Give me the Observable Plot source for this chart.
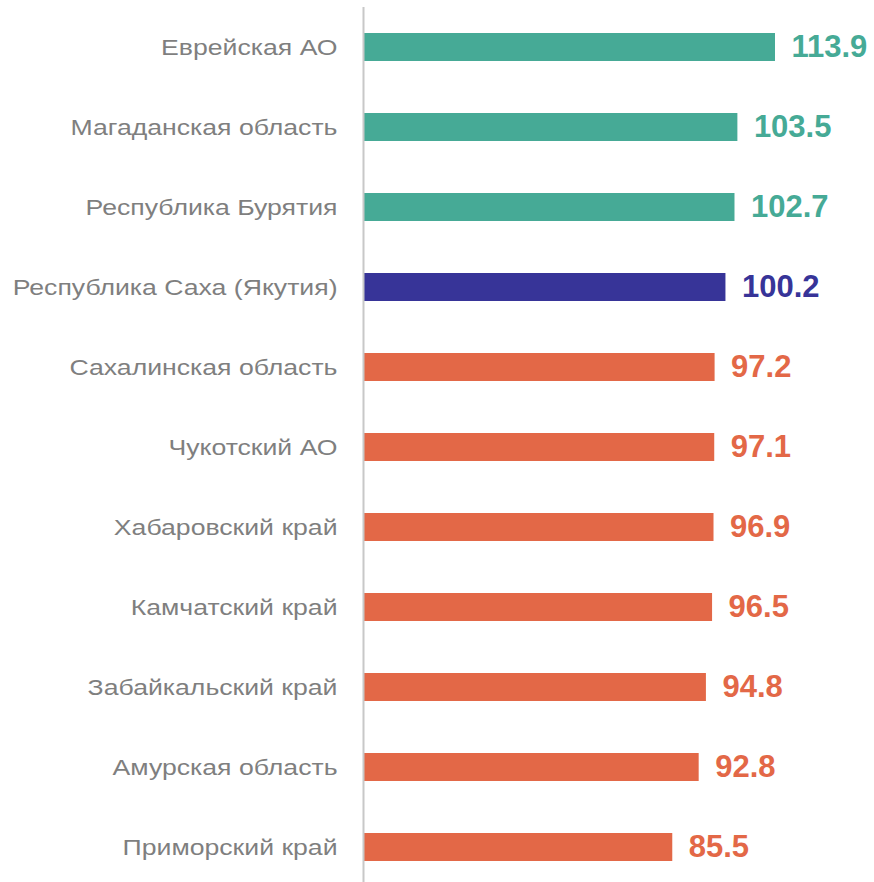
<!DOCTYPE html>
<html>
<head>
<meta charset="utf-8">
<script src="https://cdn.jsdelivr.net/npm/d3@7"></script>
<script src="https://cdn.jsdelivr.net/npm/@observablehq/plot@0.6"></script>
<style>
body { margin: 0; background: #fff; }
</style>
</head>
<body>
<div id="chart"></div>
<script>
const regions = ["Еврейская АО","Магаданская область","Республика Бурятия","Республика Саха (Якутия)","Сахалинская область","Чукотский АО","Хабаровский край","Камчатский край","Забайкальский край","Амурская область","Приморский край"];
const values = [113.9,103.5,102.7,100.2,97.2,97.1,96.9,96.5,94.8,92.8,85.5];
const groups = ["above","above","above","self","below","below","below","below","below","below","below"];

const data = regions.map((r, i) => ({region: r, value: values[i], group: groups[i]}));
const colors = {above: "#46aa96", self: "#373498", below: "#e36847"};

const chart = Plot.plot({
  width: 874,
  height: 882,
  marginTop: 7,
  marginBottom: 0,
  marginLeft: 363,
  marginRight: 99,
  style: {fontFamily: "Liberation Sans, Arial, sans-serif", background: "#fff"},
  x: {domain: [0, 113.9], range: [363, 775], axis: null},
  y: {domain: regions, range: [7, 887], paddingInner: 0.65, paddingOuter: 0.325, axis: null},
  marks: [
    Plot.barX(data, {y: "region", x: "value", fill: d => colors[d.group]}),
    Plot.ruleX([0], {stroke: "#c8c8c8", strokeWidth: 2}),
    Plot.text(data, {y: "region", x: 0, text: "region", textAnchor: "end", dx: -26, fontSize: 22, fill: "#7f7f7f"}),
    Plot.text(data, {y: "region", x: "value", text: d => d.value.toFixed(1), textAnchor: "start", dx: 16, fontSize: 31, fontWeight: "bold", fill: d => colors[d.group]})
  ]
});
document.getElementById("chart").append(chart);
// The reference's category labels are horizontally widened; stretch them the same way.
const textGroups = chart.querySelectorAll("g[aria-label='text']");
if (textGroups.length) {
  textGroups[0].querySelectorAll("text").forEach(t => {
    const w = t.getComputedTextLength();
    t.setAttribute("textLength", (w * 1.21).toFixed(1));
    t.setAttribute("lengthAdjust", "spacingAndGlyphs");
  });
}
</script>
</body>
</html>
